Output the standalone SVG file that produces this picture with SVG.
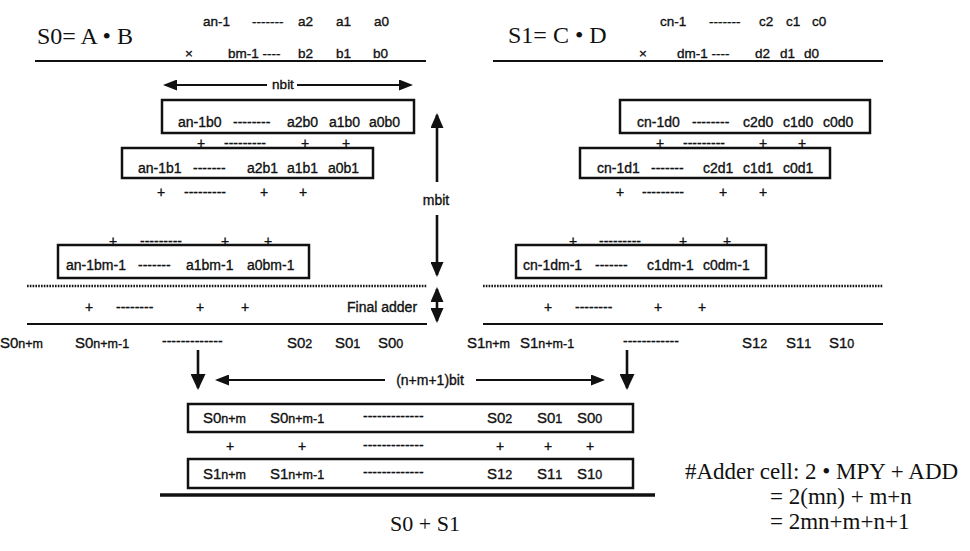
<svg xmlns="http://www.w3.org/2000/svg" width="970" height="551" viewBox="0 0 970 551">
  <style>
    .t { font-family: "Liberation Sans", Arial, Helvetica, sans-serif; font-size: 14px; fill: #111; stroke: #111; stroke-width: 0.35; }
    .sm { font-size: 13.5px; }
    .lg { font-size: 15px; }
    .sub { font-size: 12.5px; }
    .mid { text-anchor: middle; }
    .serif { font-family: "Liberation Serif", "Times New Roman", serif; fill: #111; }
    .box { fill: none; stroke: #111; stroke-width: 2.5; }
    .rule { stroke: #111; stroke-width: 2; fill: none; }
    .heavy { stroke: #111; stroke-width: 3.5; fill: none; }
    .dots { stroke: #111; stroke-width: 2.5; stroke-dasharray: 1.6 1.2; fill: none; }
    .shaft { stroke: #111; stroke-width: 2; fill: none; }
    .shaft-b { stroke: #111; stroke-width: 2.6; fill: none; }
  </style>
  <defs>
    <marker id="ah-s" markerUnits="userSpaceOnUse" markerWidth="14" markerHeight="11" refX="12" refY="5.5" orient="auto-start-reverse">
      <path d="M0,0 L14,5.5 L0,11 z" fill="#111"/>
    </marker>
    <marker id="ah-l" markerUnits="userSpaceOnUse" markerWidth="15" markerHeight="13" refX="13" refY="6.5" orient="auto-start-reverse">
      <path d="M0,0 L15,6.5 L0,13 z" fill="#111"/>
    </marker>
    <marker id="ah-d" markerUnits="userSpaceOnUse" markerWidth="16" markerHeight="15" refX="14" refY="7.5" orient="auto-start-reverse">
      <path d="M0,0 L16,7.5 L0,15 z" fill="#111"/>
    </marker>
  </defs>
  <rect width="970" height="551" fill="#fff"/>

  <!-- S0 = A·B : operands -->
  <g id="product-s0">
    <text class="serif" x="37" y="44" font-size="24">S0= A • B</text>
    <text class="t sm" x="203" y="26">an-1</text>
    <text class="t sm" x="252" y="26">-------</text>
    <text class="t sm" x="298" y="26">a2</text>
    <text class="t sm" x="336" y="26">a1</text>
    <text class="t sm" x="374" y="26">a0</text>
    <text class="t sm" x="185" y="58">×</text>
    <text class="t sm" x="228" y="58">bm-1 ----</text>
    <text class="t sm" x="298" y="58">b2</text>
    <text class="t sm" x="336" y="58">b1</text>
    <text class="t sm" x="373" y="58">b0</text>
    <line class="rule" x1="35" y1="61" x2="426" y2="61"/>
  </g>

  <!-- S1 = C·D : operands -->
  <g id="product-s1">
    <text class="serif" x="508" y="43" font-size="24">S1= C • D</text>
    <text class="t sm" x="660" y="26">cn-1</text>
    <text class="t sm" x="709" y="26">-------</text>
    <text class="t sm" x="759" y="26">c2</text>
    <text class="t sm" x="786" y="26">c1</text>
    <text class="t sm" x="812" y="26">c0</text>
    <text class="t sm" x="639" y="58">×</text>
    <text class="t sm" x="677" y="58">dm-1 ----</text>
    <text class="t sm" x="755" y="58">d2</text>
    <text class="t sm" x="780" y="58">d1</text>
    <text class="t sm" x="804" y="58">d0</text>
    <line class="rule" x1="493" y1="61" x2="883" y2="61"/>
  </g>

  <!-- partial products of A·B -->
  <g id="pp-ab0">
    <rect class="box" x="162" y="100" width="252" height="33"/>
    <text class="t" x="178" y="127">an-1b0</text>
    <text class="t" x="233" y="127">--------</text>
    <text class="t" x="287" y="127">a2b0</text>
    <text class="t" x="329" y="127">a1b0</text>
    <text class="t" x="369" y="127">a0b0</text>
  </g>
  <g id="plus-ab0">
    <text class="t mid" x="201" y="148">+</text>
    <text class="t" x="224" y="148">---------</text>
    <text class="t mid" x="305" y="148">+</text>
    <text class="t mid" x="346" y="148">+</text>
  </g>
  <g id="pp-ab1">
    <rect class="box" x="122" y="148" width="251" height="30"/>
    <text class="t" x="138" y="173">an-1b1</text>
    <text class="t" x="193" y="173">-------</text>
    <text class="t" x="247" y="173">a2b1</text>
    <text class="t" x="287" y="173">a1b1</text>
    <text class="t" x="328" y="173">a0b1</text>
  </g>
  <g id="plus-ab1">
    <text class="t mid" x="161" y="197">+</text>
    <text class="t" x="184" y="197">---------</text>
    <text class="t mid" x="264" y="197">+</text>
    <text class="t mid" x="303" y="197">+</text>
  </g>
  <g id="plus-abm1">
    <text class="t mid" x="113" y="246">+</text>
    <text class="t" x="140" y="246">---------</text>
    <text class="t mid" x="225" y="246">+</text>
    <text class="t mid" x="268" y="246">+</text>
  </g>
  <g id="pp-abm1">
    <rect class="box" x="58" y="245" width="251" height="33"/>
    <text class="t" x="66" y="270">an-1bm-1</text>
    <text class="t" x="138" y="270">-------</text>
    <text class="t" x="186" y="270">a1bm-1</text>
    <text class="t" x="247" y="270">a0bm-1</text>
  </g>

  <!-- partial products of C·D -->
  <g id="pp-cd0">
    <rect class="box" x="620" y="100" width="250" height="33"/>
    <text class="t" x="637" y="127">cn-1d0</text>
    <text class="t" x="692" y="127">--------</text>
    <text class="t" x="743" y="127">c2d0</text>
    <text class="t" x="783" y="127">c1d0</text>
    <text class="t" x="823" y="127">c0d0</text>
  </g>
  <g id="plus-cd0">
    <text class="t mid" x="660" y="148">+</text>
    <text class="t" x="683" y="148">---------</text>
    <text class="t mid" x="763" y="148">+</text>
    <text class="t mid" x="802" y="148">+</text>
  </g>
  <g id="pp-cd1">
    <rect class="box" x="580" y="148" width="250" height="30"/>
    <text class="t" x="597" y="173">cn-1d1</text>
    <text class="t" x="651" y="173">-------</text>
    <text class="t" x="703" y="173">c2d1</text>
    <text class="t" x="743" y="173">c1d1</text>
    <text class="t" x="783" y="173">c0d1</text>
  </g>
  <g id="plus-cd1">
    <text class="t mid" x="620" y="197">+</text>
    <text class="t" x="642" y="197">---------</text>
    <text class="t mid" x="723" y="197">+</text>
    <text class="t mid" x="763" y="197">+</text>
  </g>
  <g id="plus-cdm1">
    <text class="t mid" x="573" y="246">+</text>
    <text class="t" x="599" y="246">---------</text>
    <text class="t mid" x="683" y="246">+</text>
    <text class="t mid" x="727" y="246">+</text>
  </g>
  <g id="pp-cdm1">
    <rect class="box" x="516" y="245" width="250" height="33"/>
    <text class="t" x="523" y="270">cn-1dm-1</text>
    <text class="t" x="595" y="270">-------</text>
    <text class="t" x="647" y="270">c1dm-1</text>
    <text class="t" x="703" y="270">c0dm-1</text>
  </g>

  <!-- final adders and their outputs -->
  <g id="final-adder-s0">
    <line class="dots" x1="27" y1="286" x2="427" y2="286"/>
    <text class="t mid" x="89" y="312">+</text>
    <text class="t" x="116" y="312">--------</text>
    <text class="t mid" x="200" y="312">+</text>
    <text class="t mid" x="245" y="312">+</text>
    <line class="rule" x1="27" y1="324" x2="427" y2="324"/>
    <text class="t lg" x="0" y="348">S0<tspan class="sub">n+m</tspan></text>
    <text class="t lg" x="75" y="348">S0<tspan class="sub">n+m-1</tspan></text>
    <text class="t" x="162" y="346">-------------</text>
    <text class="t lg" x="287" y="348">S0<tspan class="sub">2</tspan></text>
    <text class="t lg" x="335" y="348">S0<tspan class="sub">1</tspan></text>
    <text class="t lg" x="378" y="348">S0<tspan class="sub">0</tspan></text>
  </g>
  <g id="final-adder-s1">
    <line class="dots" x1="483" y1="286" x2="883" y2="286"/>
    <text class="t mid" x="548" y="312">+</text>
    <text class="t" x="575" y="312">--------</text>
    <text class="t mid" x="658" y="312">+</text>
    <text class="t mid" x="702" y="312">+</text>
    <line class="rule" x1="483" y1="324" x2="883" y2="324"/>
    <text class="t lg" x="467" y="348">S1<tspan class="sub">n+m</tspan></text>
    <text class="t lg" x="520" y="348">S1<tspan class="sub">n+m-1</tspan></text>
    <text class="t" x="623" y="346">------------</text>
    <text class="t lg" x="742" y="348">S1<tspan class="sub">2</tspan></text>
    <text class="t lg" x="786" y="348">S1<tspan class="sub">1</tspan></text>
    <text class="t lg" x="829" y="348">S1<tspan class="sub">0</tspan></text>
  </g>

  <!-- S0 + S1 addition -->
  <g id="sum-s0">
    <rect class="box" x="188" y="404" width="445" height="28"/>
    <text class="t lg" x="203" y="423">S0<tspan class="sub">n+m</tspan></text>
    <text class="t lg" x="270" y="423">S0<tspan class="sub">n+m-1</tspan></text>
    <text class="t" x="363" y="421">-------------</text>
    <text class="t lg" x="487" y="423">S0<tspan class="sub">2</tspan></text>
    <text class="t lg" x="537" y="423">S0<tspan class="sub">1</tspan></text>
    <text class="t lg" x="577" y="423">S0<tspan class="sub">0</tspan></text>
  </g>
  <g id="sum-plus">
    <text class="t mid" x="230" y="451">+</text>
    <text class="t mid" x="302" y="451">+</text>
    <text class="t" x="363" y="450">-------------</text>
    <text class="t mid" x="500" y="451">+</text>
    <text class="t mid" x="548" y="451">+</text>
    <text class="t mid" x="590" y="451">+</text>
  </g>
  <g id="sum-s1">
    <rect class="box" x="188" y="459" width="445" height="29"/>
    <text class="t lg" x="203" y="479">S1<tspan class="sub">n+m</tspan></text>
    <text class="t lg" x="270" y="479">S1<tspan class="sub">n+m-1</tspan></text>
    <text class="t" x="363" y="477">-------------</text>
    <text class="t lg" x="487" y="479">S1<tspan class="sub">2</tspan></text>
    <text class="t lg" x="537" y="479">S1<tspan class="sub">1</tspan></text>
    <text class="t lg" x="577" y="479">S1<tspan class="sub">0</tspan></text>
  </g>
  <g id="sum-result">
    <line class="heavy" x1="160" y1="495" x2="655" y2="495"/>
    <text class="serif" x="425" y="531" font-size="22" text-anchor="middle">S0 + S1</text>
  </g>

  <!-- adder cell count -->
  <g id="adder-count">
    <text class="serif" x="685" y="479" font-size="23">#Adder cell: 2 • MPY + ADD</text>
    <text class="serif" x="770" y="504" font-size="23">= 2(mn) + m+n</text>
    <text class="serif" x="770" y="529" font-size="23">= 2mn+m+n+1</text>
  </g>

  <!-- dimension arrows and flow arrows -->
  <g id="connectors">
    <line class="shaft" x1="267" y1="85" x2="165" y2="85" marker-end="url(#ah-s)"/>
    <line class="shaft" x1="297" y1="85" x2="411" y2="85" marker-end="url(#ah-s)"/>
    <text class="t sm mid" x="283" y="89">nbit</text>

    <line class="shaft-b" x1="437" y1="182" x2="437" y2="115" marker-end="url(#ah-l)"/>
    <text class="t mid" x="436" y="205">mbit</text>
    <line class="shaft-b" x1="437" y1="215" x2="437" y2="275" marker-end="url(#ah-l)"/>
    <line class="shaft-b" x1="437" y1="289" x2="437" y2="321" marker-start="url(#ah-l)" marker-end="url(#ah-l)"/>
    <text class="t" x="347" y="312">Final adder</text>

    <line class="shaft-b" x1="198" y1="350" x2="198" y2="388" marker-end="url(#ah-d)"/>
    <line class="shaft-b" x1="627" y1="350" x2="627" y2="388" marker-end="url(#ah-d)"/>
    <line class="shaft" x1="385" y1="380" x2="217" y2="380" marker-end="url(#ah-s)"/>
    <line class="shaft" x1="476" y1="380" x2="603" y2="380" marker-end="url(#ah-s)"/>
    <text class="t mid" x="430" y="385" font-size="14.5">(n+m+1)bit</text>
  </g>
</svg>
